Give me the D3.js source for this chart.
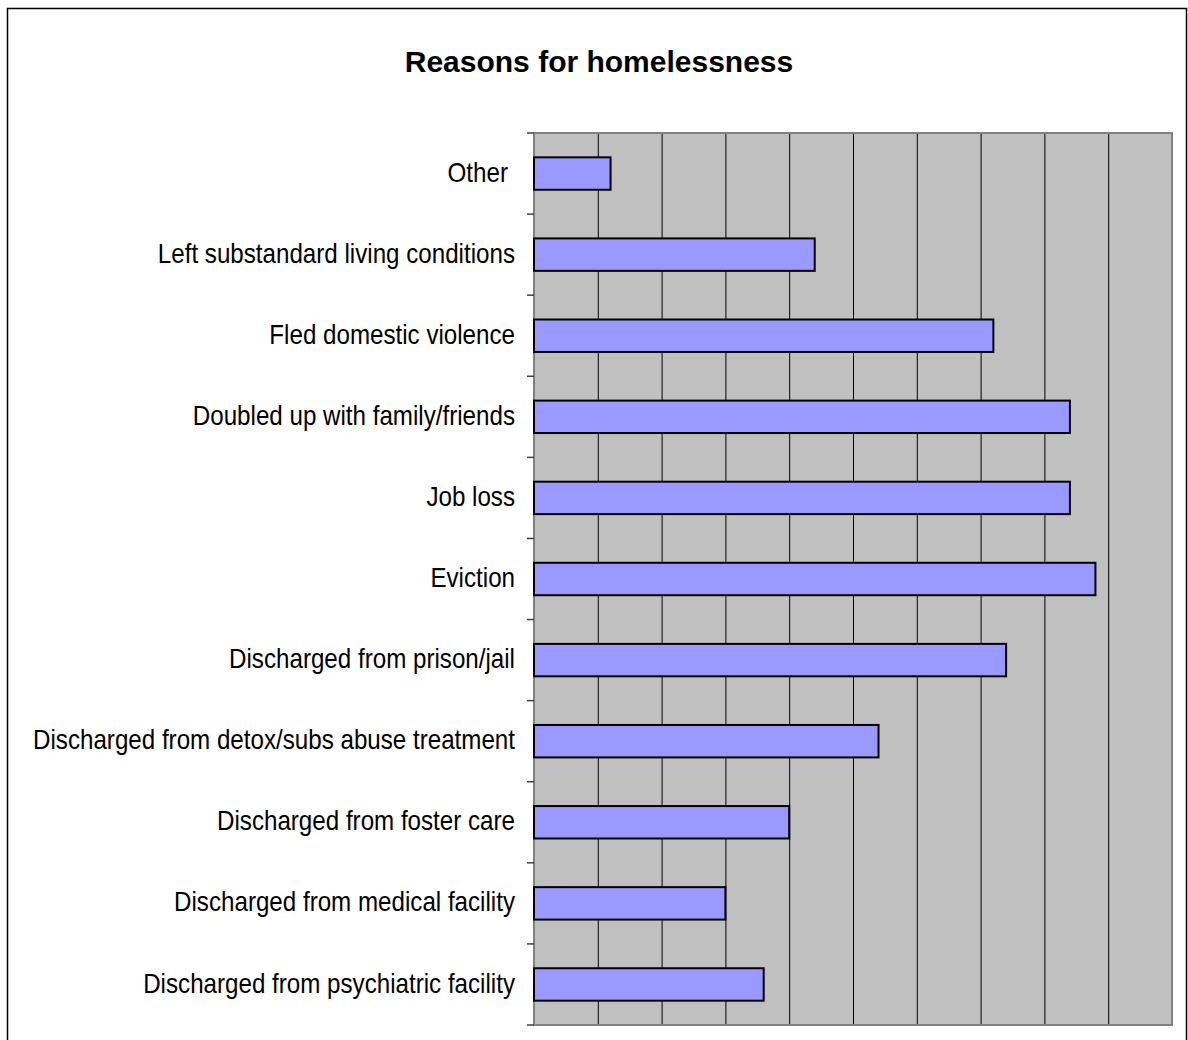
<!DOCTYPE html>
<html>
<head>
<meta charset="utf-8">
<script src="https://cdn.jsdelivr.net/npm/d3@7"></script>
<style>
  html, body { margin: 0; padding: 0; background: #fff; }
  svg { display: block; }
</style>
</head>
<body>
<svg id="chart" width="1188" height="1040"></svg>
<script>
const categories = [
  "Other",
  "Left substandard living conditions",
  "Fled domestic violence",
  "Doubled up with family/friends",
  "Job loss",
  "Eviction",
  "Discharged from prison/jail",
  "Discharged from detox/subs abuse treatment",
  "Discharged from foster care",
  "Discharged from medical facility",
  "Discharged from psychiatric facility"
];
const values = [6, 22, 36, 42, 42, 44, 37, 27, 20, 15, 18];
const xTicks = [0, 5, 10, 15, 20, 25, 30, 35, 40, 45, 50];
const title = "Reasons for homelessness";

const svg = d3.select("#chart");
const plot = { left: 534, top: 133, right: 1172, bottom: 1025 };

// outer chart border
svg.append("rect")
  .attr("x", 7.5).attr("y", 8.5)
  .attr("width", 1179).attr("height", 1100)
  .attr("fill", "#fff").attr("stroke", "#000").attr("stroke-width", 1.5);

svg.append("text")
  .attr("x", 599).attr("y", 72)
  .attr("text-anchor", "middle")
  .attr("font-family", "Liberation Sans, Arial, sans-serif")
  .attr("font-weight", "bold")
  .attr("font-size", 30)
  .text(title);

const x = d3.scaleLinear().domain([0, 50]).range([plot.left, plot.right]);
const y = d3.scaleBand().domain(categories)
  .range([plot.top, plot.bottom])
  .paddingInner(0.6).paddingOuter(0.3);

// plot background
svg.append("rect")
  .attr("x", plot.left).attr("y", plot.top)
  .attr("width", plot.right - plot.left).attr("height", plot.bottom - plot.top)
  .attr("fill", "#c0c0c0");

// vertical gridlines
const grid = svg.append("g")
  .attr("transform", `translate(0,${plot.bottom})`)
  .call(d3.axisBottom(x).tickValues(xTicks.slice(1, -1))
    .tickSize(-(plot.bottom - plot.top)).tickFormat(""));
grid.select(".domain").remove();
grid.selectAll("line").attr("stroke", "#000").attr("stroke-width", 1);

// plot border
svg.append("rect")
  .attr("x", plot.left).attr("y", plot.top)
  .attr("width", plot.right - plot.left).attr("height", plot.bottom - plot.top)
  .attr("fill", "none").attr("stroke", "#808080").attr("stroke-width", 2);

// category boundary ticks
const step = y.step();
const bounds = d3.range(categories.length + 1).map(i => plot.top + i * step);
svg.append("g").selectAll("line").data(bounds).join("line")
  .attr("x1", plot.left - 7).attr("x2", plot.left)
  .attr("y1", d => d).attr("y2", d => d)
  .attr("stroke", "#404040").attr("stroke-width", 1.5);

// bars
svg.append("g").selectAll("rect").data(categories).join("rect")
  .attr("x", x(0))
  .attr("y", d => y(d))
  .attr("width", (d, i) => x(values[i]) - x(0))
  .attr("height", y.bandwidth())
  .attr("fill", "#9999ff")
  .attr("stroke", "#000")
  .attr("stroke-width", 2);

// category labels (slightly condensed like the original rendering)
svg.append("g").selectAll("text").data(categories).join("text")
  .attr("transform", d => `translate(${d === "Other" ? 508 : 515},${y(d) + y.bandwidth() / 2}) scale(0.895,1)`)
  .attr("dy", "0.30em")
  .attr("text-anchor", "end")
  .attr("font-family", "Liberation Sans, Arial, sans-serif")
  .attr("font-size", 27)
  .attr("fill", "#000")
  .text(d => d);
</script>
</body>
</html>
